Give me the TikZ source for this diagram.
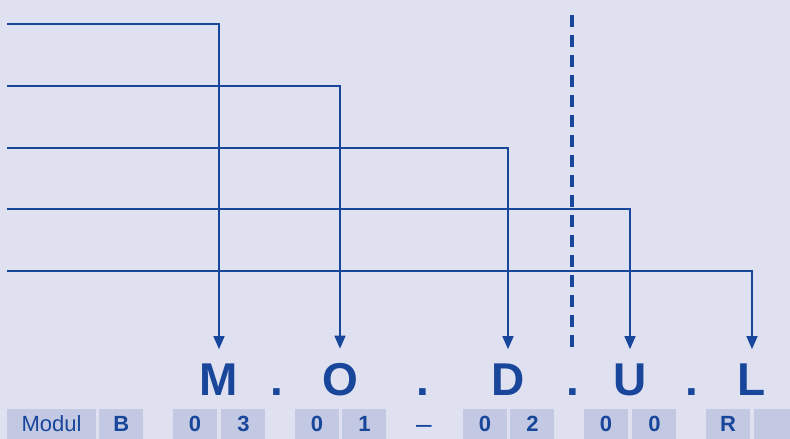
\documentclass[tikz,border=0pt]{standalone}
\usepackage{fontspec}
\setmainfont{Liberation Sans}
\usetikzlibrary{positioning,arrows.meta,calc}
\usepackage{xcolor}
\definecolor{bgblue}{HTML}{DFE1F1}
\definecolor{boxblue}{HTML}{C4C9E3}
\definecolor{inkblue}{HTML}{17469A}

\begin{document}
\begin{tikzpicture}[x=1pt,y=-1pt]

	\tikzstyle{codebox}=[fill=boxblue, text=inkblue, inner sep=0pt, minimum width=44pt, minimum height=30pt, font=\fontsize{22}{22}\selectfont\bfseries];
	\tikzstyle{bigletter}=[text=inkblue, inner sep=0pt, anchor=base, font=\fontsize{46}{46}\selectfont\bfseries];
	\tikzstyle{feed}=[draw=inkblue, line width=1.4pt, -{Triangle[length=13pt,width=11pt]}];

	\clip (0,0) rectangle (790,439);
	\fill[bgblue] (0,0) rectangle (790,439);

    \begin{scope}

    	% code letters
    	\node (M) at (219,395) [bigletter]{M};
    	\node (O) at (340,395) [bigletter]{O};
    	\node (D) at (508,395) [bigletter]{D};
    	\node (U) at (630,395) [bigletter]{U};
    	\node (L) at (752,395) [bigletter]{L};
    	\node (dot1) at (277,395) [bigletter]{.};
    	\node (dot2) at (423,395) [bigletter]{.};
    	\node (dot3) at (573,395) [bigletter]{.};
    	\node (dot4) at (692,395) [bigletter]{.};

    	% bottom row
    	\node (modul) at (51.5,424) [codebox, minimum width=89pt, font=\fontsize{22}{22}\selectfont]{Modul};
    	\node (b) [right = 3pt of modul, codebox]{B};
    	\node (m1) at (195,424) [codebox]{0};
    	\node (m2) [right = 4pt of m1, codebox]{3};
    	\node (o1) at (317,424) [codebox]{0};
    	\node (o2) [right = 3pt of o1, codebox]{1};
    	\node (dash) at (424,433) [text=inkblue, inner sep=0pt, anchor=base, font=\fontsize{28}{28}\selectfont]{--};
    	\node (d1) at (485,424) [codebox]{0};
    	\node (d2) [right = 3pt of d1, codebox]{2};
    	\node (u1) at (606,424) [codebox]{0};
    	\node (u2) [right = 4pt of u1, codebox]{0};
    	\node (l1) at (728,424) [codebox]{R};
    	\node (l2) [right = 4pt of l1, codebox]{};

    	% feed lines
    	\coordinate (inM) at (7,24);
    	\coordinate (inO) at (7,86);
    	\coordinate (inD) at (7,148);
    	\coordinate (inU) at (7,209);
    	\coordinate (inL) at (7,271);
    	\draw[feed] (inM) -| ([yshift=14pt]M.north);
    	\draw[feed] (inO) -| ([yshift=14pt]O.north);
    	\draw[feed] (inD) -| ([yshift=14pt]D.north);
    	\draw[feed] (inU) -| ([yshift=14pt]U.north);
    	\draw[feed] (inL) -| ([yshift=14pt]L.north);

    	% separator
    	\coordinate (sepTop) at (572,15);
    	\coordinate (sepBot) at (572,348);
    	\draw[inkblue, line width=4pt, dash pattern=on 12pt off 8pt] (sepTop) -- (sepBot);

    \end{scope}
\end{tikzpicture}
\end{document}
